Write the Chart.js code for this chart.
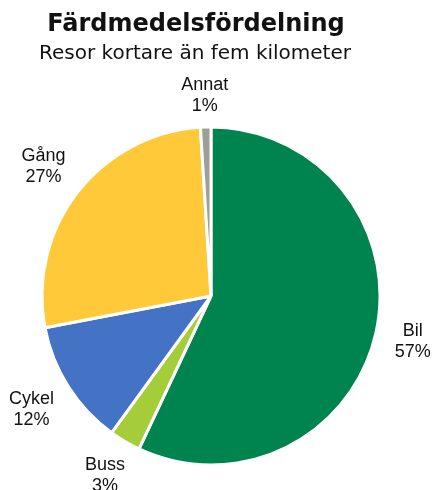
<!DOCTYPE html>
<html>
<head>
<meta charset="utf-8">
<script src="https://cdn.jsdelivr.net/npm/chart.js@4"></script>
<style>
  html, body { margin: 0; padding: 0; background: #fff; }
  #wrap { width: 433px; height: 490px; position: relative; }
</style>
</head>
<body>
<div id="wrap"><canvas id="myChart"></canvas></div>
<script>
var categories = ['Bil', 'Buss', 'Cykel', 'Gång', 'Annat'];
var shares = [57, 3, 12, 27, 1];
var colors = ['#00844F', '#A5CD39', '#4472C4', '#FFC939', '#A09E98'];
var title = 'Färdmedelsfördelning';
var subtitle = 'Resor kortare än fem kilometer';

// titles and outside labels drawn by hand
var textPlugin = {
    id: 'texts',
    afterDraw: function (chart) {
        var c = chart.ctx;
        c.save();
        c.fillStyle = '#111';
        c.textAlign = 'center';
        c.textBaseline = 'alphabetic';
        c.font = 'bold 24px "DejaVu Sans"';
        c.fillText(title, 196, 31);
        c.font = '20px "DejaVu Sans"';
        c.fillText(subtitle, 195, 59);

        c.font = '18px "Liberation Sans"';
        c.textBaseline = 'middle';
        var meta = chart.getDatasetMeta(0);
        meta.data.forEach(function (arc, i) {
            var p = arc.getProps(['x', 'y', 'startAngle', 'endAngle', 'outerRadius'], true);
            var a = (p.startAngle + p.endAngle) / 2;
            var dx = Math.cos(a), dy = Math.sin(a);
            var l1 = categories[i], l2 = shares[i] + '%';
            var hw = Math.max(c.measureText(l1).width, c.measureText(l2).width) / 2;
            var hh = 14;
            var d = p.outerRadius + 17 + Math.abs(dx) * hw + Math.abs(dy) * hh;
            var cx = p.x + dx * d, cy = p.y + dy * d;
            c.fillText(l1, cx, cy - 10.5);
            c.fillText(l2, cx, cy + 10.5);
        });
        c.restore();
    }
};

var ctx = document.getElementById('myChart').getContext('2d');
var myChart = new Chart(ctx, {
    type: 'pie',
    data: {
        labels: categories,
        datasets: [{
            data: shares,
            backgroundColor: colors,
            borderColor: '#ffffff',
            borderWidth: 3
        }]
    },
    options: {
        responsive: true,
        maintainAspectRatio: false,
        animation: false,
        radius: 169,
        layout: {
            padding: { left: 40, right: 51, top: 126, bottom: 24 }
        },
        plugins: {
            legend: { display: false },
            tooltip: { enabled: false }
        }
    },
    plugins: [textPlugin]
});
</script>
</body>
</html>
